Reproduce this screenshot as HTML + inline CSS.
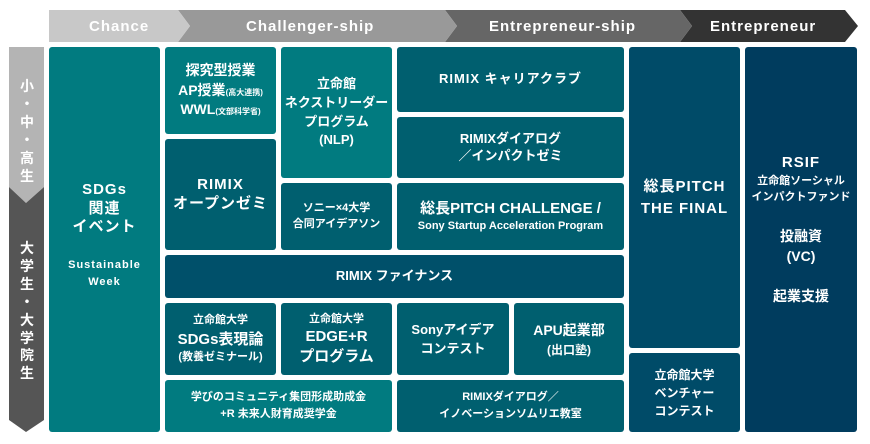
<!DOCTYPE html>
<html><head><meta charset="utf-8"><style>
*{margin:0;padding:0;box-sizing:border-box}
body{width:870px;height:444px;background:#fff;position:relative;overflow:hidden;font-family:"Liberation Sans","Noto Sans CJK JP",sans-serif;color:#fff}
.b{position:absolute;border-radius:3px;display:flex;flex-direction:column;align-items:center;justify-content:center;text-align:center;font-weight:bold;line-height:1.25}
.t{background:#017b80}.d{background:#005f6f}.f{background:#00506a}.p{background:#004b68}.n{background:#003c5e}
.h{position:absolute;top:18px;font-size:15px;letter-spacing:1px;color:#fff;font-weight:bold;line-height:18px}
.v{position:absolute;left:17px;width:20px;font-size:14px;text-align:center;line-height:1.28;color:#fff;font-weight:bold}
</style></head><body>
<svg style="position:absolute;left:0;top:0" width="870" height="444">
<polygon points="680,10 845,10 858,26 845,42 680,42 692,26" fill="#333"/>
<polygon points="445,10 680,10 692,26 680,42 445,42 457,26" fill="#666"/>
<polygon points="178,10 445,10 457,26 445,42 178,42 190,26" fill="#999"/>
<polygon points="49,10 178,10 190,26 178,42 49,42" fill="#c8c8c8"/>
<polygon points="9,47 44,47 44,187 26,203 9,187" fill="#b4b4b4"/>
<polygon points="9,187 26,203 44,187 44,420 26,432 9,420" fill="#555"/>
</svg>
<div class="h" style="left:89px">Chance</div>
<div class="h" style="left:246px">Challenger-ship</div>
<div class="h" style="left:489px">Entrepreneur-ship</div>
<div class="h" style="left:710px">Entrepreneur</div>
<div class="v" style="top:78px">小<br>・<br>中<br>・<br>高<br>生</div>
<div class="v" style="top:240px">大<br>学<br>生<br>・<br>大<br>学<br>院<br>生</div>

<div class="b t" style="left:49px;top:47px;width:111px;height:385px;font-size:15px;letter-spacing:1px"><div style="margin-top:-8px">SDGs<br>関連<br>イベント</div><div style="font-size:11px;margin-top:20px;line-height:1.5">Sustainable<br>Week</div></div>
<div class="b t" style="left:165px;top:47px;width:111px;height:87px;font-size:14px;line-height:1.4">探究型授業<div>AP授業<span style="font-size:8px">(高大連携)</span></div><div>WWL<span style="font-size:8px">(文部科学省)</span></div></div>
<div class="b d" style="left:165px;top:139px;width:111px;height:111px;font-size:15px;letter-spacing:1px">RIMIX<br>オープンゼミ</div>
<div class="b t" style="left:281px;top:47px;width:111px;height:131px;font-size:13px;line-height:1.45">立命館<br>ネクストリーダー<br>プログラム<br>(NLP)</div>
<div class="b d" style="left:281px;top:183px;width:111px;height:67px;font-size:11px;line-height:1.45">ソニー×4大学<br>合同アイデアソン</div>
<div class="b d" style="left:397px;top:47px;width:227px;height:65px;font-size:13px;letter-spacing:1px">RIMIX キャリアクラブ</div>
<div class="b d" style="left:397px;top:117px;width:227px;height:61px;font-size:13px">RIMIXダイアログ<br>／インパクトゼミ</div>
<div class="b d" style="left:397px;top:183px;width:227px;height:67px;font-size:15px;line-height:1.35">総長PITCH CHALLENGE /<div style="font-size:11px">Sony Startup Acceleration Program</div></div>
<div class="b p" style="left:629px;top:47px;width:111px;height:301px;font-size:15px;letter-spacing:1px;line-height:1.45">総長PITCH<br>THE FINAL</div>
<div class="b n" style="left:745px;top:47px;width:112px;height:385px;font-size:11px;line-height:1.45"><div style="font-size:15px;letter-spacing:1px">RSIF</div>立命館ソーシャル<br>インパクトファンド<div style="font-size:14px;margin-top:20px;line-height:1.45">投融資<br>(VC)</div><div style="font-size:14px;margin-top:20px;margin-bottom:20px">起業支援</div></div>
<div class="b f" style="left:165px;top:255px;width:459px;height:43px;font-size:13px">RIMIX ファイナンス</div>
<div class="b d" style="left:165px;top:303px;width:111px;height:72px;font-size:11px;line-height:1.4">立命館大学<div style="font-size:15px">SDGs表現論</div>(教養ゼミナール)</div>
<div class="b d" style="left:281px;top:303px;width:111px;height:72px;font-size:11px;line-height:1.4">立命館大学<div style="font-size:15px;line-height:1.3">EDGE+R<br>プログラム</div></div>
<div class="b d" style="left:397px;top:303px;width:112px;height:72px;font-size:13px;line-height:1.5">Sonyアイデア<br>コンテスト</div>
<div class="b d" style="left:514px;top:303px;width:110px;height:72px;font-size:14px;line-height:1.5">APU起業部<div style="font-size:12px">(出口塾)</div></div>
<div class="b t" style="left:165px;top:380px;width:227px;height:52px;font-size:11px;line-height:1.55">学びのコミュニティ集団形成助成金<br>+R 未来人財育成奨学金</div>
<div class="b d" style="left:397px;top:380px;width:227px;height:52px;font-size:11px;line-height:1.55">RIMIXダイアログ／<br>イノベーションソムリエ教室</div>
<div class="b p" style="left:629px;top:353px;width:111px;height:79px;font-size:12px;line-height:1.5">立命館大学<br>ベンチャー<br>コンテスト</div>
</body></html>
